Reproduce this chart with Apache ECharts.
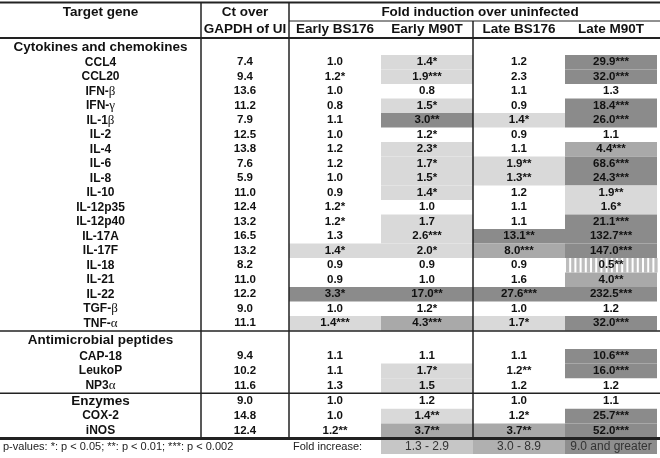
<!DOCTYPE html>
<html><head><meta charset="utf-8">
<script src="https://cdn.jsdelivr.net/npm/echarts@6/dist/echarts.min.js"></script>
<style>html,body{margin:0;padding:0;background:#fff}#c{width:660px;height:458px}</style>
</head><body><div id="c"></div>
<script>
// ---------------- DATA ----------------
const groupTitles = ['Cytokines and chemokines', 'Antimicrobial peptides', 'Enzymes'];
const cytokineGenes = ['CCL4','CCL20','IFN-β','IFN-γ','IL-1β','IL-2','IL-4','IL-6','IL-8','IL-10','IL-12p35','IL-12p40','IL-17A','IL-17F','IL-18','IL-21','IL-22','TGF-β','TNF-α'];
const peptideGenes = ['CAP-18','LeukoP','NP3α'];
const enzymeGenes = ['COX-2','iNOS'];
// value rows: 19 cytokines, 3 peptides, the "Enzymes" row, 2 enzymes
const ctOverGAPDH = [7.4,9.4,13.6,11.2,7.9,12.5,13.8,7.6,5.9,11.0,12.4,13.2,16.5,13.2,8.2,11.0,12.2,9.0,11.1, 9.4,10.2,11.6, 9.0,14.8,12.4];

const earlyBS176 = [1.0,1.2,1.0,0.8,1.1,1.0,1.2,1.2,1.0,0.9,1.2,1.2,1.3,1.4,0.9,0.9,3.3,1.0,1.4, 1.1,1.1,1.3, 1.0,1.0,1.2];
const earlyBS176Sig = ['','*','','','','','','','','','*','*','','*','','','*','','***', '','','', '','','**'];
const earlyBS176Class = [0,0,0,0,0,0,0,0,0,0,0,0,0,1,0,0,3,0,1, 0,0,0, 0,0,0];

const earlyM90T = [1.4,1.9,0.8,1.5,3.0,1.2,2.3,1.7,1.5,1.4,1.0,1.7,2.6,2.0,0.9,1.0,17.0,1.2,4.3, 1.1,1.7,1.5, 1.2,1.4,3.7];
const earlyM90TSig = ['*','***','','*','**','*','*','*','*','*','','','***','*','','','**','*','***', '','*','', '','**','**'];
const earlyM90TClass = [1,1,0,1,3,0,1,1,1,1,0,1,1,1,0,0,3,0,2, 0,1,1, 0,1,2];

const lateBS176 = [1.2,2.3,1.1,0.9,1.4,0.9,1.1,1.9,1.3,1.2,1.1,1.1,13.1,8.0,0.9,1.6,27.6,1.0,1.7, 1.1,1.2,1.2, 1.0,1.2,3.7];
const lateBS176Sig = ['','','','','*','','','**','**','','','','**','***','','','***','','*', '','**','', '','*','**'];
const lateBS176Class = [0,0,0,0,1,0,0,1,1,0,0,0,3,2,0,0,3,0,1, 0,0,0, 0,0,2];

const lateM90T = [29.9,32.0,1.3,18.4,26.0,1.1,4.4,68.6,24.3,1.9,1.6,21.1,132.7,147.0,0.5,4.0,232.5,1.2,32.0, 10.6,16.0,1.2, 1.1,25.7,52.0];
const lateM90TSig = ['***','***','','***','***','','***','***','***','**','*','***','***','***','**','**','***','','***', '***','***','', '','***','***'];
const lateM90TClass = [3,3,0,3,3,0,2,3,3,1,1,3,3,3,-1,2,3,0,3, 3,3,0, 0,3,3];

const headerTargetGene = 'Target gene';
const headerCt = ['Ct over', 'GAPDH of UI'];
const headerFold = 'Fold induction over uninfected';
const columnTitles = ['Early BS176','Early M90T','Late BS176','Late M90T'];
const pValueNote = 'p-values: *: p < 0.05; **: p < 0.01; ***: p < 0.002';
const legendTitle = 'Fold increase:';
const legendLabels = ['1.3 - 2.9','3.0 - 8.9','9.0 and greater'];

// ---------------- LAYOUT / STYLE ----------------
const W = 660, H = 458;
const COL = [0, 201, 289, 381, 473, 565, 657];
const FONT = "'Liberation Sans', Arial, Helvetica, sans-serif";
const SHADE = {1:'#d9d9d9', 2:'#a9a9a9', 3:'#8b8b8b'};
const LEGEND_SHADE = ['#c6c6c6', '#b0b0b0', '#8e8e8e'];
const LINE = '#222';
const sections = [
  {title: groupTitles[0], titleH: 17,   genes: cytokineGenes, rowH: 14.5, titleHasData: false},
  {title: groupTitles[1], titleH: 18.5, genes: peptideGenes,  rowH: 14.6, titleHasData: false},
  {title: groupTitles[2], titleH: 16,   genes: enzymeGenes,   rowH: 14.6, titleHasData: true}
];
const foldCols = [
  [earlyBS176, earlyBS176Sig, earlyBS176Class],
  [earlyM90T, earlyM90TSig, earlyM90TClass],
  [lateBS176, lateBS176Sig, lateBS176Class],
  [lateM90T, lateM90TSig, lateM90TClass]
];

function greek(s){ return s.replace(/([α-ω])/g, '{g|$1}'); }

const fills = [], lines = [], texts = [];
function addText(t, x0, x1, y0, y1, opt){ texts.push(Object.assign({kind:'text', text:t, x0, x1, y0, y1}, opt||{})); }
function addLine(x0, y0, x1, y1, w){ lines.push({kind:'line', x0, y0, x1, y1, w}); }

// header
addText(headerTargetGene, COL[0], COL[1], 3, 21, {size:13.5});
addText(headerCt[0], COL[1], COL[2], 3, 21, {size:13.5});
addText(headerCt[1], COL[1], COL[2], 21, 38, {size:13.5});
addText(headerFold, COL[2] + 11, COL[6] + 3, 3, 21, {size:13.5});
columnTitles.forEach((t, j) => addText(t, COL[j+2], COL[j+3], 21, 38, {size:13.5}));

// body
let y = 38, di = 0;
const sepYs = [];
sections.forEach((sec, si) => {
  if (si > 0) sepYs.push(y + 0.5);
  const rows = [{label: sec.title, h: sec.titleH, title: true, d: sec.titleHasData ? di++ : -1}];
  sec.genes.forEach(g => rows.push({label: g, h: sec.rowH, title: false, d: di++}));
  rows.forEach(r => {
    const y0 = y, y1 = y + r.h;
    addText(greek(r.label), COL[0], COL[1], y0 + (r.title ? 0.5 : 0), y1 + (r.title ? 0.5 : 0), {size: r.title ? 13.5 : 12});
    if (r.d >= 0) {
      addText(ctOverGAPDH[r.d].toFixed(1), COL[1], COL[2], y0, y1, {size: 11.5});
      foldCols.forEach((fc, j) => {
        const cls = fc[2][r.d];
        if (cls > 0) fills.push({kind:'rect', x0: COL[j+2], x1: COL[j+3], y0, y1, fill: SHADE[cls]});
        else if (cls < 0) fills.push({kind:'hatch', x0: COL[j+2], x1: COL[j+3], y0, y1});
        addText(fc[0][r.d].toFixed(1) + fc[1][r.d], COL[j+2], COL[j+3], y0, y1, {size: 11.5});
      });
    }
    y = y1;
  });
});
const tableBottom = y;

// rules
addLine(0, 2.5, W, 2.5, 2);
addLine(COL[2], 21, W, 21, 1);
addLine(0, 38, W, 38, 2);
sepYs.forEach(s => addLine(0, s, W, s, 1.5));
addLine(0, tableBottom + 0.5, W, tableBottom + 0.5, 3);
addLine(COL[1], 3, COL[1], tableBottom, 1.5);
addLine(COL[2], 3, COL[2], tableBottom, 1.5);
addLine(COL[4], 21, COL[4], tableBottom, 1.5);

// footer / legend
const fy0 = tableBottom + 2, fy1 = tableBottom + 16;
addText(pValueNote, 3, 3, fy0, fy1, {size: 11, bold: false, align: 'left', color:'#222'});
addText(legendTitle, 293, 293, fy0, fy1, {size: 11, bold: false, align: 'left', color:'#222'});
legendLabels.forEach((t, k) => {
  fills.push({kind:'rect', x0: COL[k+3], x1: COL[k+4], y0: fy0, y1: fy1, fill: LEGEND_SHADE[k]});
  addText(t, COL[k+3], COL[k+4], fy0, fy1, {size: 12, bold: false, color:'#333'});
});

const items = fills.concat(lines, texts);

function renderItem(params, api){
  const it = items[params.dataIndex];
  const p0 = api.coord([it.x0, it.y0]);
  const p1 = api.coord([it.x1, it.y1]);
  if (it.kind === 'rect') {
    return {type:'rect', z2: 0, shape:{x:p0[0], y:p0[1], width:p1[0]-p0[0], height:p1[1]-p0[1]}, style:{fill: it.fill}};
  }
  if (it.kind === 'hatch') {
    const ch = [];
    for (let x = p0[0] + 1; x < p1[0] - 1; x += 5.2) {
      ch.push({type:'rect', shape:{x, y:p0[1], width: 3.2, height: p1[1]-p0[1]}, style:{fill:'#bdbdbd'}});
    }
    return {type:'group', children: ch};
  }
  if (it.kind === 'line') {
    return {type:'line', z2: 5, shape:{x1:p0[0], y1:p0[1], x2:p1[0], y2:p1[1]}, style:{stroke: LINE, lineWidth: it.w}};
  }
  const align = it.align || 'center';
  const x = align === 'left' ? p0[0] : (p0[0] + p1[0]) / 2;
  return {type:'text', z2: 10, style:{
    text: it.text, x, y: (p0[1] + p1[1]) / 2, align, verticalAlign:'middle',
    fill: it.color || '#111', fontFamily: FONT, fontSize: it.size,
    fontWeight: it.bold === false ? 'normal' : 'bold',
    rich: {g: {fontFamily: "'Liberation Serif', 'DejaVu Serif', serif", fontWeight: 'normal', fontSize: it.size + 1, fill: it.color || '#111'}}
  }};
}

const chart = echarts.init(document.getElementById('c'), null, {renderer:'canvas'});
chart.setOption({
  animation: false,
  backgroundColor: '#ffffff',
  grid: {left: 0, right: 0, top: 0, bottom: 0, containLabel: false},
  xAxis: {type: 'value', min: 0, max: W, show: false},
  yAxis: {type: 'value', min: 0, max: H, inverse: true, show: false},
  series: [{
    type: 'custom', coordinateSystem: 'cartesian2d', clip: false, silent: true,
    renderItem, data: items.map(it => [it.x0, it.y0])
  }]
});
</script></body></html>
